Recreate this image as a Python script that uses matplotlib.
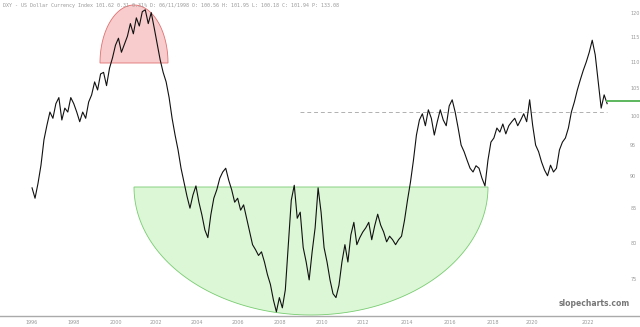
import numpy as np
import matplotlib
matplotlib.use("Agg")
import matplotlib.pyplot as plt
from matplotlib.patches import Polygon

# ---- data ----
start_year = 1996.92
end_year = 2023.30
dxy = [88.1, 86.5, 88.8, 91.7, 95.9, 98.4, 100.7, 99.6, 102.2, 103.3,
       99.3, 101.4, 100.7, 103.3, 102.2, 100.7, 99.0, 100.7, 99.6, 102.5,
       103.8, 106.2, 104.7, 107.7, 108.0, 105.5, 108.8, 110.8, 113.3, 114.7,
       111.9, 113.5, 115.1, 117.7, 115.6, 118.9, 117.2, 120.2, 120.6, 117.7,
       120.0, 116.8, 113.5, 110.4, 108.0, 106.2, 103.3, 99.6, 96.7, 94.2,
       91.2, 89.0, 86.8, 85.0, 87.0, 88.4, 85.9, 84.0, 81.8, 80.7,
       84.0, 86.5, 87.8, 89.6, 90.6, 91.2, 89.3, 87.8, 85.9, 86.5,
       84.7, 85.5, 83.5, 81.5, 79.7, 79.0, 78.2, 78.7, 77.3, 75.6,
       74.3, 72.3, 70.8, 72.6, 71.3, 73.6, 79.7, 86.2, 88.5, 83.5,
       84.4, 79.3, 77.3, 74.9, 78.7, 82.1, 88.1, 84.4, 79.3, 77.3,
       74.9, 73.1, 72.6, 74.2, 77.3, 79.7, 77.3, 81.1, 82.9, 79.7,
       80.7, 81.5, 82.1, 82.9, 80.4, 82.4, 84.1, 82.5, 81.5, 80.1,
       80.9, 80.4, 79.7, 80.4, 80.9, 83.2, 86.2, 89.0, 92.5, 96.7,
       99.3, 100.4, 98.3, 101.1, 99.6, 96.7, 99.0, 101.1, 99.3, 98.3,
       101.8, 102.9, 100.7, 97.9, 95.0, 93.9, 92.5, 91.2, 90.6, 91.6,
       91.2, 89.6, 88.4, 92.5, 95.5, 96.2, 97.9, 97.2, 98.6, 96.9,
       98.3, 99.0, 99.6, 98.3, 99.3, 100.4, 99.0, 102.9, 98.4, 95.0,
       93.9, 92.2, 90.9, 90.0, 91.7, 90.6, 91.2, 94.2, 95.5, 96.2,
       97.9, 100.7, 102.5, 104.7, 106.6, 108.4, 110.0, 111.9, 114.3, 111.4,
       106.2, 101.4, 103.8, 102.2]

y_ticks = [75, 80, 85, 90, 95, 100, 105, 110, 115, 120]
x_tick_pos = [1996.92, 1998.84, 2000.77, 2002.61, 2004.49, 2006.37, 2008.29,
              2010.22, 2012.10, 2014.12, 2016.09, 2018.06, 2019.85, 2022.42]
x_tick_labels = ["1996", "1998", "2000", "2002", "2004", "2006", "2008",
                 "2010", "2012", "2014", "2016", "2018", "2020", "2022"]
dashed_level = 100.7
dashed_from = 2009.2
last_level = 102.7
header = ("DXY - US Dollar Currency Index 101.62 0.31 0.31% D: 06/11/1998 "
          "O: 100.56 H: 101.95 L: 100.18 C: 101.94 P: 133.08")

# ---- figure ----
W, H = 640, 327
fig = plt.figure(figsize=(W / 100, H / 100), dpi=100)
fig.patch.set_facecolor("white")
ax_w = 626
ax_bot = 316
ax = fig.add_axes([0, (H - ax_bot) / H, ax_w / W, ax_bot / H])
ax.set_facecolor("white")
ax.set_yscale("log")
ax.set_ylim(70.28, 122.7)
ax.set_xlim(1995.45, 1995.45 + ax_w / 21.8)

# highlight shapes (axes-fraction coordinates derived from pixel layout)
def half_ellipse(cx, cy, a, b, upper, n=120):
    t = np.linspace(0, np.pi, n)
    xs = cx + a * np.cos(t)
    ys = cy - b * np.sin(t) if upper else cy + b * np.sin(t)
    return np.column_stack([xs / ax_w, 1 - ys / ax_bot])

red = Polygon(half_ellipse(134, 63, 34, 58, True), closed=True,
              transform=ax.transAxes, facecolor="#f8cccc", edgecolor="#e07070",
              lw=0.6, zorder=1)
green = Polygon(half_ellipse(311, 187, 177, 128, False), closed=True,
                transform=ax.transAxes, facecolor="#dbf7d6", edgecolor="#78cc70",
                lw=0.6, zorder=1, clip_on=False)
ax.add_patch(red)
ax.add_patch(green)

x = np.linspace(start_year, end_year, len(dxy))
ax.plot(x, dxy, color="#111111", lw=0.8, zorder=3)

ax.hlines(dashed_level, dashed_from, end_year, colors="#b0b0b0",
          linestyles=(0, (4, 3)), lw=0.7, zorder=2)
ax.plot([end_year, 1995.45 + W / 21.8], [last_level, last_level],
        color="#5cb85c", lw=1.4, zorder=4, clip_on=False)

for s in ax.spines.values():
    s.set_visible(False)
ax.yaxis.tick_right()
ax.set_yticks(y_ticks)
ax.set_yticklabels([str(v) for v in y_ticks])
ax.yaxis.set_minor_locator(matplotlib.ticker.NullLocator())
ax.tick_params(axis="y", length=0, pad=3, labelsize=3.5, labelcolor="#999999")
ax.set_xticks(x_tick_pos)
ax.set_xticklabels(x_tick_labels)
ax.tick_params(axis="x", length=0, pad=3, labelsize=3.5, labelcolor="#999999")

# bottom rule across full width
fig.add_artist(plt.Line2D([0, 1], [(H - ax_bot) / H] * 2, color="#aaaaaa",
                          lw=1.0, transform=fig.transFigure))

fig.text(3 / W, 1 - 5 / H, header, fontsize=3.6, family="DejaVu Sans Mono",
         color="#999999", va="center", ha="left")
fig.text(630 / W, 1 - 304 / H, "slopecharts.com", fontsize=5.5,
         color="#777777", va="center", ha="right", fontweight="bold")

fig.savefig("out.png", dpi=100, facecolor="white")
